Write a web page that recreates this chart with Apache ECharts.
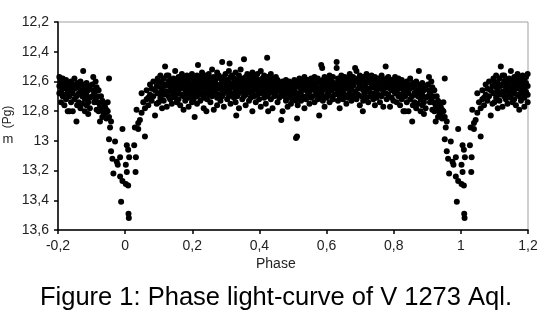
<!DOCTYPE html>
<html><head><meta charset="utf-8">
<script src="https://cdn.jsdelivr.net/npm/echarts/dist/echarts.min.js"></script>
<style>html,body{margin:0;padding:0;background:#fff}#c{width:545px;height:322px}</style>
</head><body><div id="c"></div><script>
// axis ranges / ticks
const xRange = [-0.2, 1.2], xStep = 0.2;
const yRange = [12.2, 13.6], yStep = 0.2;
const xTitle = 'Phase';
const caption = 'Figure 1: Phase light-curve of V 1273 Aql.';

// observations folded on phase 0..1 : [phase, mag, mag, ...]
const eclipseIngress = [
[0.902,12.62,12.70],[0.905,12.57,12.66],[0.908,12.74,12.68],[0.912,12.60,12.72],
[0.915,12.64,12.79],[0.918,12.70,12.74],[0.921,12.80,12.66],[0.925,12.76,12.87],
[0.928,12.70,12.78],[0.932,12.84,12.73],[0.936,12.75,12.81],[0.940,12.82,12.77],
[0.944,12.85,12.79],[0.948,12.74,12.80],[0.952,12.58,12.84,12.99],[0.955,12.91],
[0.958,13.07,12.87],[0.962,13.12],[0.965,13.22],[0.970,13.005],[0.975,13.14],
[0.978,13.16],[0.985,13.11,13.24],[0.988,13.41],[0.992,12.92,13.27]
];
const eclipseEgress = [
[0.002,13.29,13.16],[0.005,13.03,13.21],[0.009,13.06,13.30],[0.010,13.49],[0.011,13.52],
[0.012,13.11],[0.027,13.03],[0.029,12.91],[0.031,13.21],[0.032,13.11],[0.034,12.79],
[0.039,12.92,12.88],[0.044,12.86],[0.049,12.81,12.68],[0.054,12.74],[0.059,12.78,12.97],
[0.064,12.72,12.66],[0.069,12.71,12.76],[0.074,12.62,12.69],[0.079,12.65,12.73],
[0.084,12.60,12.70],[0.089,12.66,12.83],[0.094,12.63,12.75],[0.097,12.58,12.68]
];
const firstMax = [
[0.100,12.60,12.68,12.74],[0.105,12.56,12.64,12.71],[0.110,12.61,12.66,12.78],[0.115,12.58,12.69,12.73],
[0.119,12.50,12.63],[0.124,12.56,12.62,12.77,12.67],[0.129,12.56,12.60,12.70],[0.134,12.64,12.59,12.72],
[0.139,12.61,12.67,12.75],[0.144,12.58,12.63,12.69],[0.149,12.53,12.66,12.71],[0.154,12.60,12.74,12.64],
[0.159,12.57,12.62,12.68,12.72],[0.164,12.59,12.65,12.76],[0.169,12.55,12.61,12.69],[0.174,12.58,12.64,12.70,12.79],
[0.179,12.60,12.66,12.73],[0.184,12.56,12.62,12.68],[0.189,12.59,12.64,12.71,12.77],[0.194,12.57,12.61,12.67],
[0.199,12.55,12.63,12.69,12.74],[0.204,12.58,12.65,12.72],[0.207,12.84],[0.209,12.60,12.62,12.68],
[0.214,12.56,12.64,12.70,12.75],[0.217,12.49],[0.219,12.59,12.66,12.61],[0.224,12.57,12.63,12.69,12.73],
[0.229,12.54,12.60,12.67],[0.234,12.58,12.64,12.71,12.78],[0.239,12.56,12.62,12.68],[0.242,12.80],
[0.244,12.59,12.65,12.72,12.61],[0.249,12.55,12.63,12.69],[0.254,12.58,12.60,12.66,12.74],[0.259,12.52,12.62,12.70],
[0.264,12.57,12.64,12.68,12.79],[0.269,12.59,12.61,12.67],[0.274,12.54,12.63,12.71,12.76],[0.279,12.56,12.65,12.69],
[0.284,12.58,12.62,12.73],[0.289,12.47,12.60,12.66,12.70],[0.294,12.57,12.64,12.68,12.77],[0.299,12.55,12.61,12.67],
[0.304,12.59,12.63,12.72],[0.309,12.53,12.60,12.66,12.70],[0.311,12.48],[0.314,12.57,12.62,12.69,12.75],
[0.319,12.56,12.64,12.68],[0.324,12.58,12.61,12.71],[0.329,12.54,12.63,12.67,12.74],[0.331,12.83],
[0.334,12.59,12.65,12.70],[0.339,12.56,12.62,12.68,12.78],[0.344,12.52,12.60,12.66],[0.349,12.58,12.64,12.72],
[0.354,12.45,12.61,12.67,12.70],[0.359,12.57,12.63,12.69,12.76],[0.364,12.55,12.60,12.66],[0.369,12.59,12.64,12.73],
[0.374,12.56,12.62,12.68,12.71],[0.379,12.54,12.61,12.67,12.80],[0.384,12.58,12.65,12.70],[0.389,12.57,12.63,12.74],
[0.394,12.55,12.60,12.66,12.69],[0.399,12.59,12.64,12.72],[0.404,12.53,12.62,12.68,12.77],[0.409,12.58,12.61,12.67],
[0.414,12.56,12.65,12.71],[0.419,12.60,12.63,12.69,12.75],[0.423,12.44],[0.424,12.57,12.66,12.70],
[0.426,12.80],[0.429,12.59,12.62,12.68],[0.434,12.55,12.64,12.72],[0.439,12.58,12.61,12.67,12.78],
[0.444,12.60,12.65,12.70],[0.449,12.57,12.63,12.69],[0.454,12.59,12.66,12.74],[0.459,12.61,12.64,12.71],
[0.465,12.86,12.62,12.68],[0.469,12.80,12.60,12.67]
];
const secondMax = [
[0.474,12.63,12.70,12.65],[0.479,12.59,12.66,12.73],[0.484,12.62,12.68,12.77],[0.489,12.60,12.65,12.71],
[0.494,12.64,12.69,12.75],[0.499,12.61,12.67,12.72],[0.504,12.59,12.66,12.70],[0.509,12.98,12.63,12.73],
[0.512,12.85,12.97],[0.514,12.61,12.68,12.76],[0.519,12.58,12.64,12.71],[0.524,12.62,12.67,12.73],
[0.529,12.60,12.65,12.70],[0.534,12.57,12.63,12.78],[0.539,12.61,12.66,12.72],[0.544,12.59,12.64,12.69],
[0.549,12.62,12.67,12.75],[0.554,12.58,12.65,12.71],[0.559,12.60,12.63,12.70],[0.564,12.57,12.66,12.74],
[0.569,12.61,12.64,12.69],[0.574,12.58,12.67,12.72],[0.578,12.83],[0.579,12.60,12.65,12.70],
[0.584,12.49,12.62,12.68],[0.587,12.51],[0.589,12.59,12.66,12.73],[0.594,12.57,12.63,12.70,12.77],
[0.599,12.61,12.65,12.71],[0.604,12.58,12.64,12.68],[0.609,12.56,12.62,12.74],[0.614,12.60,12.66,12.70],
[0.619,12.57,12.63,12.72],[0.624,12.61,12.65,12.69],[0.630,12.47,12.51,12.62],[0.634,12.58,12.67,12.73],
[0.639,12.60,12.64,12.70,12.78],[0.644,12.56,12.62,12.68],[0.649,12.59,12.66,12.72],[0.654,12.57,12.63,12.69],
[0.659,12.61,12.65,12.75],[0.664,12.58,12.64,12.71],[0.669,12.55,12.62,12.68],[0.674,12.60,12.66,12.73],
[0.679,12.57,12.63,12.70],[0.685,12.51,12.61,12.67],[0.689,12.53,12.59,12.72],[0.694,12.58,12.65,12.69],
[0.699,12.56,12.62,12.76],[0.704,12.60,12.64,12.70],[0.708,12.80],[0.709,12.57,12.66,12.73],
[0.714,12.59,12.63,12.68],[0.719,12.55,12.61,12.71],[0.724,12.58,12.65,12.74],[0.729,12.60,12.67,12.70],
[0.734,12.56,12.62,12.69],[0.739,12.59,12.64,12.72],[0.744,12.57,12.63,12.68,12.76],[0.749,12.60,12.66,12.71],
[0.754,12.58,12.62,12.69],[0.759,12.61,12.65,12.74],[0.764,12.56,12.64,12.70],[0.769,12.59,12.63,12.67,12.77],
[0.776,12.50,12.61,12.68],[0.779,12.58,12.64,12.72],[0.784,12.57,12.62,12.69],[0.789,12.77,12.60,12.65],
[0.794,12.59,12.66,12.71],[0.799,12.61,12.64,12.73],[0.804,12.57,12.63,12.68],[0.809,12.60,12.67,12.74],
[0.814,12.58,12.65,12.70],[0.819,12.62,12.69,12.76],[0.824,12.59,12.64,12.72],[0.829,12.61,12.67,12.80],
[0.834,12.63,12.70,12.80],[0.839,12.60,12.66,12.74],[0.844,12.62,12.68,12.80],[0.849,12.58,12.65,12.72],
[0.855,12.87,12.63,12.70],[0.857,12.61,12.76],[0.862,12.64,12.68,12.74],[0.867,12.60,12.66,12.78],
[0.872,12.62,12.70,12.75],[0.875,12.53,12.67],[0.880,12.64,12.72,12.80],[0.885,12.61,12.69,12.76],
[0.890,12.66,12.74,12.82],[0.895,12.63,12.71,12.78]
];

// build plotted points (phase plot repeated beyond 0..1 as in the original)
const rows = [].concat(eclipseIngress, eclipseEgress, firstMax, secondMax);
const pts = [];
rows.forEach(r => {
  const p = r[0];
  for (let i = 1; i < r.length; i++) {
    const m = r[i];
    pts.push([p, m]);
    if (p >= 0.8) pts.push([+(p - 1).toFixed(3), m]);
    if (p <= 0.2) pts.push([+(p + 1).toFixed(3), m]);
  }
});

const fmt = v => String(Math.round(v * 10) / 10).replace('.', ',');
const FONT = '"Liberation Sans", Arial, sans-serif';

const chart = echarts.init(document.getElementById('c'), null, {renderer: 'canvas'});
chart.setOption({
  animation: false,
  backgroundColor: '#fff',
  grid: {left: 58, right: 17, top: 22, bottom: 92, show: true, borderColor: '#a0a0a0', borderWidth: 1, backgroundColor: 'transparent'},
  xAxis: {
    type: 'value', min: xRange[0], max: xRange[1], interval: xStep,
    axisLine: {show: true, onZero: false, lineStyle: {color: '#000', width: 1.5}},
    axisTick: {show: true, length: 4, lineStyle: {color: '#000', width: 1.5}},
    axisLabel: {formatter: fmt, color: '#222', fontSize: 14, fontFamily: FONT, margin: 9},
    splitLine: {show: false}
  },
  yAxis: {
    type: 'value', inverse: true, min: yRange[0], max: yRange[1], interval: yStep,
    axisLine: {show: true, onZero: false, lineStyle: {color: '#000', width: 1.5}},
    axisTick: {show: true, length: 4, lineStyle: {color: '#000', width: 1.5}},
    axisLabel: {formatter: fmt, color: '#222', fontSize: 14, fontFamily: FONT, margin: 9},
    splitLine: {show: false}
  },
  series: [{
    type: 'scatter', data: pts, symbol: 'circle', symbolSize: 6,
    itemStyle: {color: '#000', opacity: 1}, silent: true
  }],
  graphic: [
    {type: 'text', left: 256, top: 257, style: {text: xTitle, font: '14px ' + FONT, fill: '#222'}},
    {type: 'text', x: 8, y: 139, style: {text: 'm', font: '13px ' + FONT, fill: '#222', textAlign: 'center', textVerticalAlign: 'middle'}},
    {type: 'text', x: 8, y: 117, rotation: Math.PI / 2, style: {text: '(Pg)', font: '12px ' + FONT, fill: '#222', textAlign: 'center', textVerticalAlign: 'middle'}},
    {type: 'text', x: 40, y: 298, style: {text: caption, font: '25.5px ' + FONT, fill: '#000', textAlign: 'left', textVerticalAlign: 'middle'}}
  ]
});
</script></body></html>
